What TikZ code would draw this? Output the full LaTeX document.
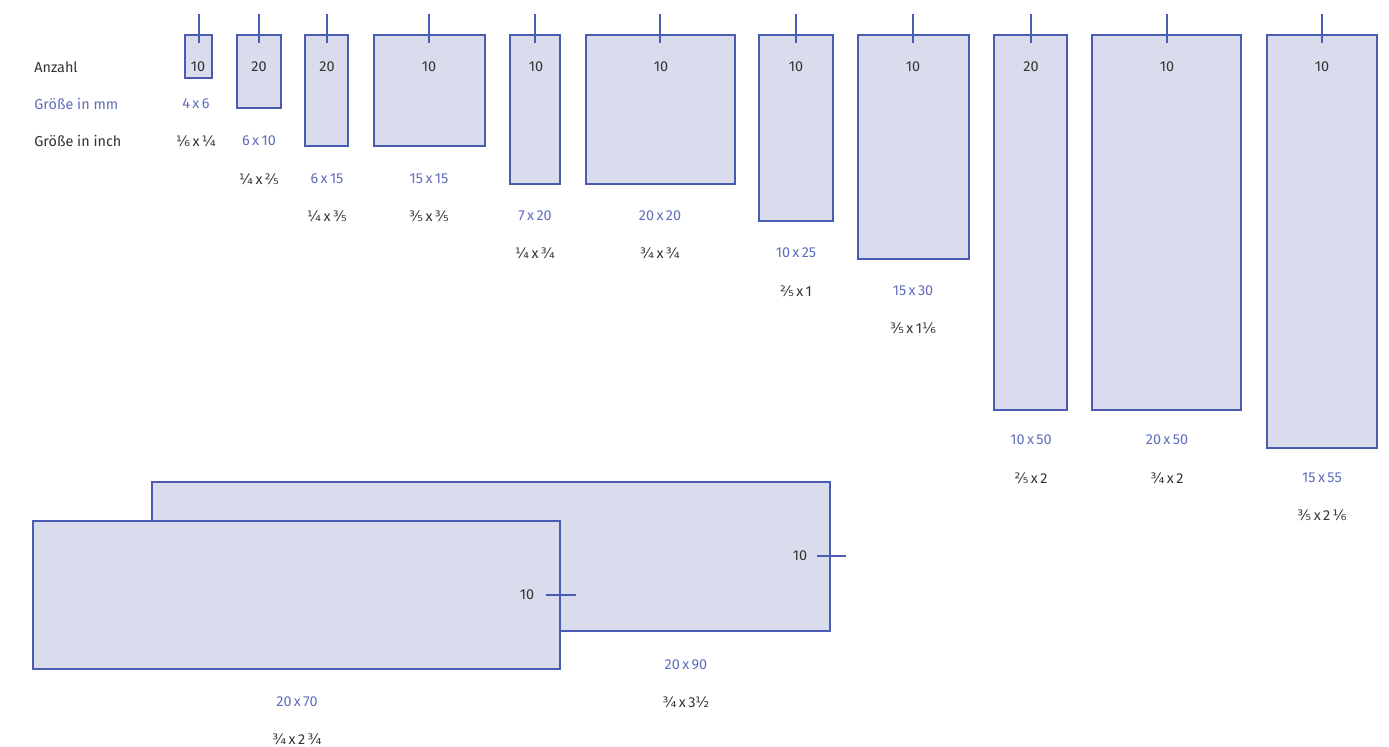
\documentclass[tikz,border=0pt]{standalone}
\usepackage{fontspec}
\setmainfont{Fira Sans}
\newfontfamily\fracfont{DejaVu Sans}
\usepackage{xcolor}
\definecolor{cardline}{HTML}{4A5CB2}
\definecolor{cardfill}{HTML}{DADBEC}
\definecolor{mmtext}{HTML}{5F6DBD}
\definecolor{darktext}{HTML}{333333}

\begin{document}
\begin{tikzpicture}[x=0.5pt,y=-0.5pt,
  card/.style={draw=cardline,fill=cardfill,line width=1.45pt},
  tick/.style={draw=cardline,line width=1.45pt},
  lbl/.style={font=\fontsize{7.2}{8}\selectfont,inner sep=0.5pt,text=darktext},
  mmlbl/.style={lbl,text=mmtext},
  inchlbl/.style={lbl}]
\useasboundingbox (0,0) rectangle (1389,747);
\node[lbl,anchor=west] (anzahl) at (33,67) {Anzahl};
\node[mmlbl,anchor=west] (mm) at (33,104) {Größe in mm};
\node[inchlbl,anchor=west] (inch) at (33,141) {Größe in inch};
% top row
\filldraw[card] (185,35) rectangle (212,78);
\draw[tick] (199,14) -- (199,43);
\node[lbl] (n4x6) at (198,67) {10};
\node[mmlbl] (m4x6) at (196,104) {4\,x\,6};
\node[inchlbl] (i4x6) at (196,141) {{\fracfont ⅙}\,x\,{\fracfont ¼}};
\filldraw[card] (237,35) rectangle (281,108);
\draw[tick] (259,14) -- (259,43);
\node[lbl] (n6x10) at (259,67) {20};
\node[mmlbl] (m6x10) at (259,141) {6\,x\,10};
\node[inchlbl] (i6x10) at (259,179) {{\fracfont ¼}\,x\,{\fracfont ⅖}};
\filldraw[card] (305,35) rectangle (348,146);
\draw[tick] (327,14) -- (327,43);
\node[lbl] (n6x15) at (327,67) {20};
\node[mmlbl] (m6x15) at (327,179) {6\,x\,15};
\node[inchlbl] (i6x15) at (327,216) {{\fracfont ¼}\,x\,{\fracfont ⅗}};
\filldraw[card] (374,35) rectangle (485,146);
\draw[tick] (429,14) -- (429,43);
\node[lbl] (n15x15) at (429,67) {10};
\node[mmlbl] (m15x15) at (429,179) {15\,x\,15};
\node[inchlbl] (i15x15) at (429,216) {{\fracfont ⅗}\,x\,{\fracfont ⅗}};
\filldraw[card] (510,35) rectangle (560,184);
\draw[tick] (535,14) -- (535,43);
\node[lbl] (n7x20) at (536,67) {10};
\node[mmlbl] (m7x20) at (535,216) {7\,x\,20};
\node[inchlbl] (i7x20) at (535,253) {{\fracfont ¼}\,x\,{\fracfont ¾}};
\filldraw[card] (586,35) rectangle (735,184);
\draw[tick] (660,14) -- (660,43);
\node[lbl] (n20x20) at (661,67) {10};
\node[mmlbl] (m20x20) at (660,216) {20\,x\,20};
\node[inchlbl] (i20x20) at (660,253) {{\fracfont ¾}\,x\,{\fracfont ¾}};
\filldraw[card] (759,35) rectangle (833,221);
\draw[tick] (796,14) -- (796,43);
\node[lbl] (n10x25) at (796,67) {10};
\node[mmlbl] (m10x25) at (796,253) {10\,x\,25};
\node[inchlbl] (i10x25) at (796,291) {{\fracfont ⅖}\,x\,1};
\filldraw[card] (858,35) rectangle (969,259);
\draw[tick] (913,14) -- (913,43);
\node[lbl] (n15x30) at (913,67) {10};
\node[mmlbl] (m15x30) at (913,291) {15\,x\,30};
\node[inchlbl] (i15x30) at (913,328) {{\fracfont ⅗}\,x\,1{\fracfont ⅙}};
\filldraw[card] (994,35) rectangle (1067,410);
\draw[tick] (1031,14) -- (1031,43);
\node[lbl] (n10x50) at (1031,67) {20};
\node[mmlbl] (m10x50) at (1031,440) {10\,x\,50};
\node[inchlbl] (i10x50) at (1031,478) {{\fracfont ⅖}\,x\,2};
\filldraw[card] (1092,35) rectangle (1241,410);
\draw[tick] (1167,14) -- (1167,43);
\node[lbl] (n20x50) at (1167,67) {10};
\node[mmlbl] (m20x50) at (1167,440) {20\,x\,50};
\node[inchlbl] (i20x50) at (1167,478) {{\fracfont ¾}\,x\,2};
\filldraw[card] (1267,35) rectangle (1377,448);
\draw[tick] (1322,14) -- (1322,43);
\node[lbl] (n15x55) at (1322,67) {10};
\node[mmlbl] (m15x55) at (1322,478) {15\,x\,55};
\node[inchlbl] (i15x55) at (1322,515) {{\fracfont ⅗}\,x\,2\,{\fracfont ⅙}};
% lying cards
\filldraw[card] (152,482) rectangle (830,631);
\draw[tick] (817,556) -- (846,556);
\node[lbl] (n20x90) at (800,556) {10};
\node[mmlbl] (m20x90) at (686,665) {20\,x\,90};
\node[inchlbl] (i20x90) at (686,702) {{\fracfont ¾}\,x\,3{\fracfont ½}};
\filldraw[card] (33,521) rectangle (560,669);
\draw[tick] (546,595) -- (576,595);
\node[lbl] (n20x70) at (527,595) {10};
\node[mmlbl] (m20x70) at (297,702) {20\,x\,70};
\node[inchlbl] (i20x70) at (297,739) {{\fracfont ¾}\,x\,2\,{\fracfont ¾}};
\end{tikzpicture}
\end{document}
